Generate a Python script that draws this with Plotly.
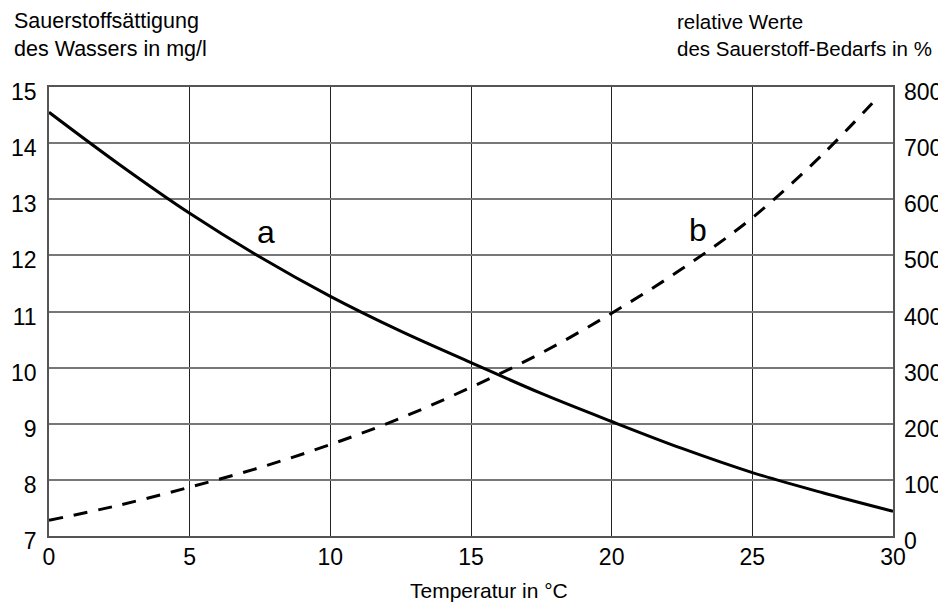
import plotly.graph_objects as go

# Temperature (°C)
temp_a = [0, 2.5, 5, 7.5, 10, 12.5, 15, 17.5, 20, 22.5, 25, 27.5, 30]
# a: oxygen saturation of water (mg/l)
sat_a = [14.55, 13.62, 12.75, 11.97, 11.27, 10.65, 10.09, 9.54, 9.04, 8.56, 8.13, 7.77, 7.44]

temp_b = [0, 2.5, 5, 7.5, 10, 12.5, 15, 17.5, 20, 22.5, 25, 27.5, 29.5]
# b: relative oxygen demand (%)
demand_b = [28, 55, 87, 122, 163, 210, 265, 326, 397, 476, 567, 680, 784]

x_ticks = [0, 5, 10, 15, 20, 25, 30]
y_left_ticks = [7, 8, 9, 10, 11, 12, 13, 14, 15]
y_right_ticks = [0, 100, 200, 300, 400, 500, 600, 700, 800]

FONT = "Liberation Sans, Arial, sans-serif"
TICK = 23

fig = go.Figure()
fig.add_trace(go.Scatter(x=temp_a, y=sat_a, mode="lines",
                         line=dict(color="black", width=3, shape="spline", smoothing=1),
                         showlegend=False, hoverinfo="skip"))
fig.add_trace(go.Scatter(x=temp_b, y=demand_b, mode="lines", yaxis="y2",
                         line=dict(color="black", width=3, shape="spline", smoothing=1, dash="14px,11px"),
                         showlegend=False, hoverinfo="skip"))

fig.update_layout(
    width=938, height=595,
    margin=dict(l=41, r=53, t=79, b=67, autoexpand=False),
    paper_bgcolor="white", plot_bgcolor="white",
    font=dict(family=FONT, color="black"),
    xaxis=dict(range=[0, 30], tickvals=x_ticks, showgrid=True, gridcolor="#222", gridwidth=1.2,
               showline=True, mirror=True, linecolor="#555", linewidth=1.5, zeroline=False,
               ticks="", tickfont=dict(size=TICK), ticklabelstandoff=0, fixedrange=True, automargin=False),
    yaxis=dict(range=[7, 15], tickvals=y_left_ticks, showgrid=True, gridcolor="#777", gridwidth=1.5,
               showline=True, mirror=True, linecolor="#555", linewidth=1.5, zeroline=False,
               ticks="", tickfont=dict(size=TICK), ticklabelstandoff=6, ticklabelshift=5,
               fixedrange=True, automargin=False),
    yaxis2=dict(range=[0, 800], tickvals=y_right_ticks, overlaying="y", side="right", showgrid=False,
                zeroline=False, showline=False, ticks="", tickfont=dict(size=TICK),
                ticklabelstandoff=10, ticklabelshift=5, fixedrange=True, automargin=False),
    annotations=[
        dict(text="Sauerstoffsättigung<br>des Wassers in mg/l", xref="paper", yref="paper",
             x=-0.0438, y=1.1147, xanchor="left", yanchor="middle", align="left", showarrow=False,
             font=dict(size=21.5)),
        dict(text="relative Werte<br>des Sauerstoff-Bedarfs in %", xref="paper", yref="paper",
             x=0.7417, y=1.1147, xanchor="left", yanchor="middle", align="left", showarrow=False,
             font=dict(size=20.5)),
        dict(text="Temperatur in °C", xref="paper", yref="paper", x=0.5213, y=-0.1203,
             xanchor="center", yanchor="middle", showarrow=False, font=dict(size=21)),
        dict(text="a", x=7.72, y=12.42, xref="x", yref="y", showarrow=False, font=dict(size=32)),
        dict(text="b", x=23.06, y=12.45, xref="x", yref="y", showarrow=False, font=dict(size=32)),
    ],
)

fig.write_html("out.html")
